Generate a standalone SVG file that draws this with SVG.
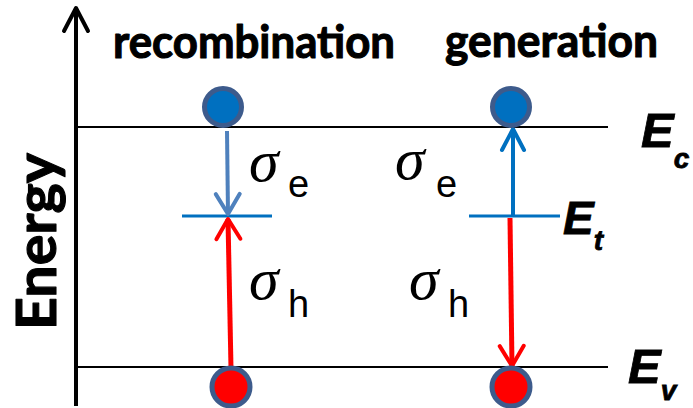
<svg xmlns="http://www.w3.org/2000/svg" width="693" height="408" viewBox="0 0 693 408">
<defs>
<style>
.lvl{stroke:#000;stroke-width:2;fill:none}
.trap{stroke:#0070C0;stroke-width:3;fill:none}
.title{font-family:Lato,"Open Sans","Liberation Sans",sans-serif;font-weight:bold;fill:#000;stroke:#000;stroke-width:1.1;stroke-linejoin:round}
.sig{font-family:"Liberation Serif","Times New Roman",serif;font-style:italic;font-size:60px;fill:#000}
.sub{font-family:"Liberation Sans",Arial,sans-serif;font-size:38px;fill:#000}
.en{font-family:"Liberation Sans",Arial,sans-serif;font-weight:bold;font-style:italic;fill:#000;stroke:#000;stroke-width:0.8}
.e-dot{fill:#0070C0;stroke:#3D5B8C;stroke-width:5}
.h-dot{fill:#FF0000;stroke:#3D5B8C;stroke-width:5}
</style>
<marker id="ahBlack" markerUnits="userSpaceOnUse" orient="auto" refX="0" refY="0" markerWidth="40" markerHeight="40" overflow="visible">
<path d="M-23,-12 L0,0 L-23,12" fill="none" stroke="#000" stroke-width="4" stroke-linecap="round" stroke-linejoin="round"/>
</marker>
<marker id="ahSteel" markerUnits="userSpaceOnUse" orient="auto" refX="0" refY="0" markerWidth="40" markerHeight="40" overflow="visible">
<path d="M-20,-12 L0,0 L-20,12" fill="none" stroke="#4F81BD" stroke-width="4" stroke-linecap="round" stroke-linejoin="round"/>
</marker>
<marker id="ahBlue" markerUnits="userSpaceOnUse" orient="auto" refX="0" refY="0" markerWidth="40" markerHeight="40" overflow="visible">
<path d="M-21,-11 L0,0 L-21,11" fill="none" stroke="#0070C0" stroke-width="4" stroke-linecap="round" stroke-linejoin="round"/>
</marker>
<marker id="ahRed" markerUnits="userSpaceOnUse" orient="auto" refX="0" refY="0" markerWidth="40" markerHeight="40" overflow="visible">
<path d="M-20,-12 L0,0 L-20,12" fill="none" stroke="#FF0000" stroke-width="4" stroke-linecap="round" stroke-linejoin="round"/>
</marker>
</defs>
<rect width="693" height="408" fill="#fff"/>

<g id="axis">
<line x1="76" y1="406" x2="76" y2="8" stroke="#000" stroke-width="4" marker-end="url(#ahBlack)"/>
<text class="title" font-size="55" transform="translate(56,330) rotate(-90)" textLength="177" lengthAdjust="spacingAndGlyphs">Energy</text>
</g>

<g id="titles">
<text class="title" x="113" y="58" font-size="46" textLength="282" lengthAdjust="spacingAndGlyphs">recombination</text>
<text class="title" x="445" y="57" font-size="46" textLength="213" lengthAdjust="spacingAndGlyphs">generation</text>
</g>

<g id="level-Ec">
<line class="lvl" x1="78" y1="127" x2="608" y2="127"/>
<text class="en" x="641" y="147" font-size="49">E<tspan font-size="28" dy="21">c</tspan></text>
</g>
<g id="level-Ev">
<line class="lvl" x1="78" y1="367" x2="608" y2="367"/>
<text class="en" x="628" y="383" font-size="49">E<tspan font-size="28" dy="17">v</tspan></text>
</g>
<g id="level-Et">
<line class="trap" x1="182" y1="216" x2="272" y2="216"/>
<line class="trap" x1="469" y1="216" x2="560" y2="216"/>
<text class="en" x="563" y="234" font-size="46">E<tspan font-size="28" dy="16">t</tspan></text>
</g>

<g id="connectors">
<line x1="227" y1="131" x2="228" y2="214" stroke="#4F81BD" stroke-width="4" marker-end="url(#ahSteel)"/>
<line x1="231" y1="368" x2="228" y2="219" stroke="#FF0000" stroke-width="5" marker-end="url(#ahRed)"/>
<line x1="513" y1="216" x2="513" y2="129" stroke="#0070C0" stroke-width="4" marker-end="url(#ahBlue)"/>
<line x1="510" y1="218" x2="512" y2="366" stroke="#FF0000" stroke-width="5" marker-end="url(#ahRed)"/>
</g>

<g id="electron-recomb"><circle class="e-dot" cx="223" cy="107" r="18.5"/></g>
<g id="hole-recomb"><circle class="h-dot" cx="231" cy="387" r="19"/></g>
<g id="electron-gen"><circle class="e-dot" cx="511" cy="107" r="18.5"/></g>
<g id="hole-gen"><circle class="h-dot" cx="511" cy="387" r="19"/></g>

<g id="labels">
<text class="sig" x="249" y="181">σ</text><text class="sub" x="288" y="197">e</text>
<text class="sig" x="395" y="179">σ</text><text class="sub" x="436" y="197">e</text>
<text class="sig" x="249" y="299">σ</text><text class="sub" x="288" y="317">h</text>
<text class="sig" x="409" y="299">σ</text><text class="sub" x="448" y="317">h</text>
</g>
</svg>
